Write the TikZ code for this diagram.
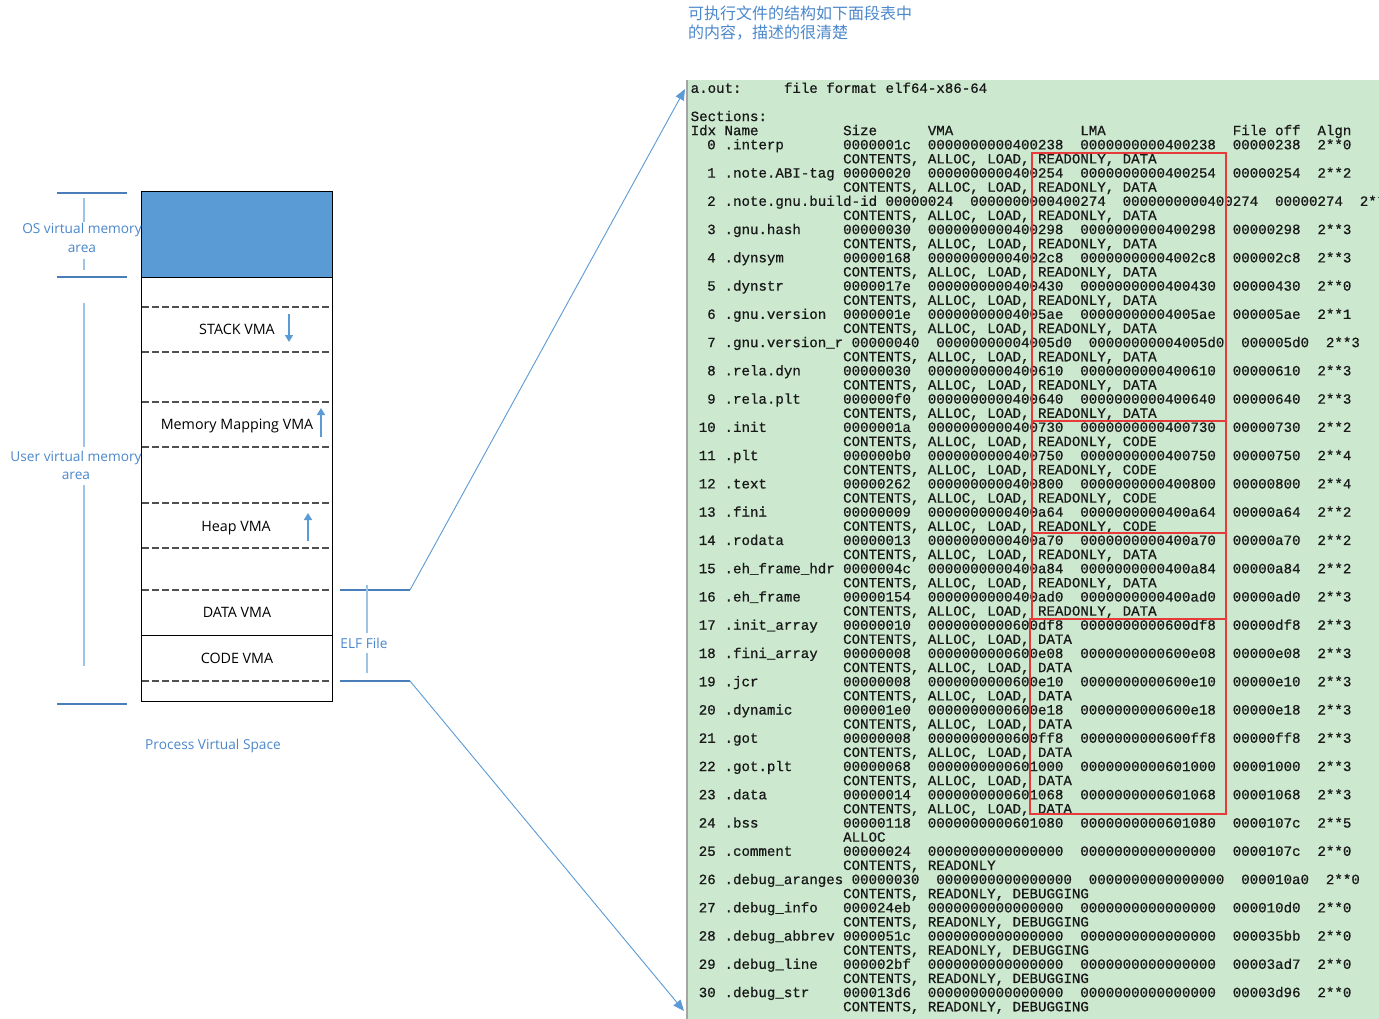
\documentclass[tikz,border=0pt]{standalone}
\usepackage{fontspec}
\setmainfont{Open Sans}
\newfontfamily\tblfont[FakeBold=0.7]{Liberation Mono}
\newfontfamily\cjkfont{Noto Sans CJK SC}
\usetikzlibrary{arrows.meta}
\definecolor{lbltext}{RGB}{76,136,204}
\definecolor{osblue}{RGB}{91,155,213}
\definecolor{arrowblue}{RGB}{91,155,213}
\definecolor{brdark}{RGB}{74,126,187}
\definecolor{brlight}{RGB}{157,195,230}
\definecolor{tblgreen}{RGB}{204,232,207}
\definecolor{tbltext}{RGB}{25,25,25}
\definecolor{boxred}{RGB}{232,58,58}
\definecolor{dashgray}{RGB}{80,80,80}
\definecolor{tblborder}{RGB}{165,165,165}
\newcommand\flA{CONTENTS, ALLOC, LOAD, READONLY, DATA}
\newcommand\flB{CONTENTS, ALLOC, LOAD, READONLY, CODE}
\newcommand\flC{CONTENTS, ALLOC, LOAD, DATA}
\newcommand\flD{ALLOC}
\newcommand\flE{CONTENTS, READONLY}
\newcommand\flF{CONTENTS, READONLY, DEBUGGING}
\begin{document}
\begin{tikzpicture}[x=1pt,y=-1pt,
  tt/.style={inner sep=0pt, anchor=base west, text=tbltext,
    font=\tblfont\fontsize{14.12}{14.13}\selectfont\frenchspacing},
  vmatext/.style={inner sep=0pt, anchor=base, font=\fontsize{14.3}{17}\selectfont},
  bluelbl/.style={inner sep=0pt, anchor=base, text=lbltext, font=\fontsize{13.7}{18}\selectfont},
  captext/.style={inner sep=0pt, anchor=base west, text=lbltext, font=\cjkfont\fontsize{16}{19}\selectfont},
  dashsep/.style={draw=dashgray, line width=1.3pt, dash pattern=on 6.5pt off 3.5pt},
  solidsep/.style={draw=black, line width=1pt},
  growarrow/.style={draw=arrowblue, line width=1.5pt, -{Triangle[length=7pt,width=8pt]}},
  brh/.style={draw=brdark, line width=2pt},
  brv/.style={draw=brlight, line width=1.5pt},
  linkarrow/.style={draw=arrowblue, line width=0.9pt, -{Triangle[length=11pt,width=9pt]}},
  redbox/.style={draw=boxred, line width=2pt}]
\useasboundingbox (0,0) rectangle (1379,1019);
\fill[white] (0,0) rectangle (1379,1019);

% caption
\node[captext] (cap1) at (688,20) {可执行文件的结构如下面段表中};
\node[captext] (cap2) at (688,39) {的内容，描述的很清楚};

% ---------- process virtual space ----------
\node[draw=none, fill=white, minimum width=190pt, minimum height=509pt, inner sep=0pt] (vspace) at (237,446.5) {};
\node[fill=osblue, minimum width=190pt, minimum height=85pt, inner sep=0pt] (osvm) at (237,234.5) {};
\draw[solidsep] (142,277) -- (332,277);
\draw[dashsep] (142,307) -- (332,307);
\draw[dashsep] (142,352) -- (332,352);
\draw[dashsep] (142,402) -- (332,402);
\draw[dashsep] (142,447) -- (332,447);
\draw[dashsep] (142,503) -- (332,503);
\draw[dashsep] (142,548) -- (332,548);
\draw[dashsep] (142,590) -- (332,590);
\draw[solidsep] (142,635) -- (332,635);
\draw[dashsep] (142,681) -- (332,681);
\draw[line width=1pt] (vspace.north west) rectangle (vspace.south east);

\node[vmatext] (stack) at (237,334) {STACK VMA};
\node[vmatext] (mmap) at (237,429) {Memory Mapping VMA};
\node[vmatext] (heap) at (236,531) {Heap VMA};
\node[vmatext] (datavma) at (237,617) {DATA VMA};
\node[vmatext] (codevma) at (237,663) {CODE VMA};

\coordinate (stackA) at (289,314); \coordinate (stackB) at (289,342);
\coordinate (mmapA) at (321,437); \coordinate (mmapB) at (321,408);
\coordinate (heapA) at (308,541); \coordinate (heapB) at (308,513);
\draw[growarrow] (stackA) -- (stackB);
\draw[growarrow] (mmapA) -- (mmapB);
\draw[growarrow] (heapA) -- (heapB);

% brackets
\draw[brh] (57,193) -- (127,193);
\draw[brh] (57,277) -- (127,277);
\draw[brv] (84,198) -- (84,222);
\draw[brv] (84,259) -- (84,270);
\node[bluelbl] (os1) at (82,234) {OS virtual memory};
\node[bluelbl] (os2) at (82,252) {area};

\draw[brv] (84,303) -- (84,447);
\draw[brv] (84,485) -- (84,666);
\draw[brh] (57,704) -- (127,704);
\node[bluelbl] (us1) at (76,461) {User virtual memory};
\node[bluelbl] (us2) at (76,479) {area};

\node[bluelbl] (pvs) at (213,749) {Process Virtual Space};

\draw[brh] (340,590) -- (410,590);
\draw[brh] (340,681) -- (410,681);
\draw[brv] (367,585) -- (367,633);
\draw[brv] (367,653) -- (367,673);
\node[bluelbl] (elf) at (364,648) {ELF File};

% ---------- section table ----------
\node[fill=tblgreen, minimum width=691pt, minimum height=939pt, inner sep=0pt] (tbl) at (1033.5,549.5) {};
\draw[draw=tblborder, line width=2pt] (687,80) -- (687,1019);

\def\cw{8.47}
\def\xo{690.5}
\def\yo{92.8}
\def\lp{14.13}
\begin{scope}
\clip (688,80) rectangle (1379,1019);
\node[tt] (aout) at ({\xo},{\yo}) {a.out:};
\node[tt] (ffmt) at ({\xo+11*\cw},{\yo}) {file format elf64-x86-64};
\node[tt] (sect) at ({\xo},{\yo+2*\lp}) {Sections:};
\node[tt] (hidx) at ({\xo},{\yo+3*\lp}) {Idx Name};
\node[tt] (hsize) at ({\xo+18*\cw},{\yo+3*\lp}) {Size};
\node[tt] (hvma) at ({\xo+28*\cw},{\yo+3*\lp}) {VMA};
\node[tt] (hlma) at ({\xo+46*\cw},{\yo+3*\lp}) {LMA};
\node[tt] (hoff) at ({\xo+64*\cw},{\yo+3*\lp}) {File off};
\node[tt] (haln) at ({\xo+74*\cw},{\yo+3*\lp}) {Algn};
\foreach \k/\nm/\sz/\ad/\fo/\aln/\sh/\fl in {
 0/.interp/0000001c/400238/00000238/0/0/A,
 1/.note.ABI-tag/00000020/400254/00000254/2/0/A,
 2/.note.gnu.build-id/00000024/400274/00000274/2/5/A,
 3/.gnu.hash/00000030/400298/00000298/3/0/A,
 4/.dynsym/00000168/4002c8/000002c8/3/0/A,
 5/.dynstr/0000017e/400430/00000430/0/0/A,
 6/.gnu.version/0000001e/4005ae/000005ae/1/0/A,
 7/.gnu.version\_r/00000040/4005d0/000005d0/3/1/A,
 8/.rela.dyn/00000030/400610/00000610/3/0/A,
 9/.rela.plt/000000f0/400640/00000640/3/0/A,
 10/.init/0000001a/400730/00000730/2/0/B,
 11/.plt/000000b0/400750/00000750/4/0/B,
 12/.text/00000262/400800/00000800/4/0/B,
 13/.fini/00000009/400a64/00000a64/2/0/B,
 14/.rodata/00000013/400a70/00000a70/2/0/A,
 15/.eh\_frame\_hdr/0000004c/400a84/00000a84/2/0/A,
 16/.eh\_frame/00000154/400ad0/00000ad0/3/0/A,
 17/.init\_array/00000010/600df8/00000df8/3/0/C,
 18/.fini\_array/00000008/600e08/00000e08/3/0/C,
 19/.jcr/00000008/600e10/00000e10/3/0/C,
 20/.dynamic/000001e0/600e18/00000e18/3/0/C,
 21/.got/00000008/600ff8/00000ff8/3/0/C,
 22/.got.plt/00000068/601000/00001000/3/0/C,
 23/.data/00000014/601068/00001068/3/0/C,
 24/.bss/00000118/601080/0000107c/5/0/D,
 25/.comment/00000024/000000/0000107c/0/0/E,
 26/.debug\_aranges/00000030/000000/000010a0/0/1/F,
 27/.debug\_info/000024eb/000000/000010d0/0/0/F,
 28/.debug\_abbrev/0000051c/000000/000035bb/0/0/F,
 29/.debug\_line/000002bf/000000/00003ad7/0/0/F,
 30/.debug\_str/000013d6/000000/00003d96/0/0/F}{
  \node[tt, anchor=base east] (idx\k) at ({\xo+3*\cw},{\yo+(4+2*\k)*\lp}) {\k};
  \node[tt] (nm\k) at ({\xo+4*\cw},{\yo+(4+2*\k)*\lp}) {\nm};
  \node[tt] (sz\k) at ({\xo+(18+\sh)*\cw},{\yo+(4+2*\k)*\lp}) {\sz};
  \node[tt] (vma\k) at ({\xo+(28+\sh)*\cw},{\yo+(4+2*\k)*\lp}) {0000000000\ad};
  \node[tt] (lma\k) at ({\xo+(46+\sh)*\cw},{\yo+(4+2*\k)*\lp}) {0000000000\ad};
  \node[tt] (off\k) at ({\xo+(64+\sh)*\cw},{\yo+(4+2*\k)*\lp}) {\fo};
  \node[tt] (aln\k) at ({\xo+(74+\sh)*\cw},{\yo+(4+2*\k)*\lp}) {2**\aln};
  \node[tt] (flg\k) at ({\xo+18*\cw},{\yo+(5+2*\k)*\lp}) {\csname fl\fl\endcsname};
}
\end{scope}

% red boxes
\draw[redbox] (1032,153) rectangle (1226,421);
\draw[redbox] (1032,421) rectangle (1226,533);
\draw[redbox] (1032,533) rectangle (1226,619);
\draw[redbox] (1030,619) rectangle (1226,814);

% links from ELF bracket to table
\coordinate (elft) at (410,590);
\coordinate (elfb) at (410,681);
\coordinate (tipT) at (685,89);
\coordinate (tipB) at (684,1011);
\draw[linkarrow] (elft) -- (tipT);
\draw[linkarrow] (elfb) -- (tipB);
\end{tikzpicture}
\end{document}
